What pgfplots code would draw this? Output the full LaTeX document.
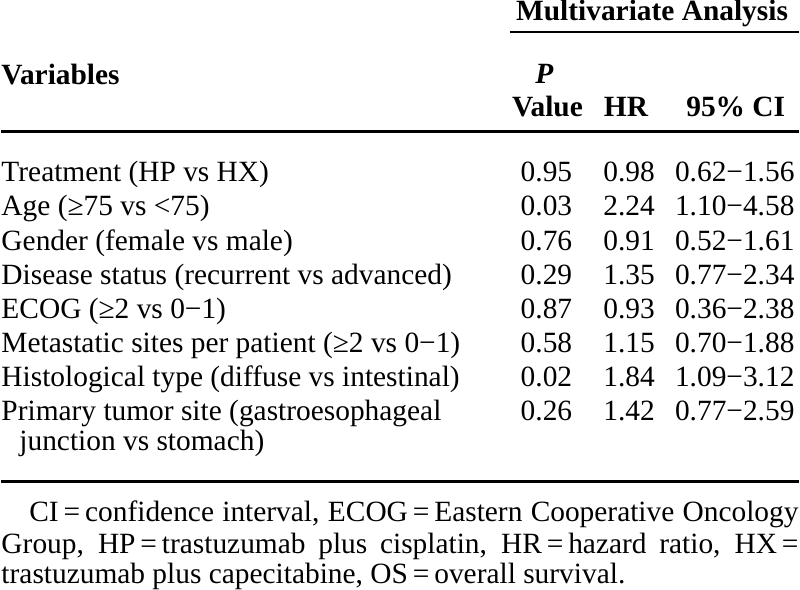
\documentclass[border=0pt]{standalone}
\usepackage{fontspec}
\setmainfont{Liberation Serif}
\usepackage{pgfplots}
\usepackage{pgfplotstable}
\pgfplotsset{compat=1.18}

\pgfplotstableread{
x y label
0 185.0 {Treatment (HP vs HX)}
0 219.3 {Age (≥75 vs <75)}
0 253.6 {Gender (female vs male)}
0 287.9 {Disease status (recurrent vs advanced)}
0 322.2 {ECOG (≥2 vs 0−1)}
0 356.5 {Metastatic sites per patient (≥2 vs 0−1)}
0 390.8 {Histological type (diffuse vs intestinal)}
0 425.1 {Primary tumor site (gastroesophageal}
18 455 {junction vs stomach)}
}\rowlabels

\pgfplotstableread{
x y label
547 185.0 0.95
547 219.3 0.03
547 253.6 0.76
547 287.9 0.29
547 322.2 0.87
547 356.5 0.58
547 390.8 0.02
547 425.1 0.26
630 185.0 0.98
630 219.3 2.24
630 253.6 0.91
630 287.9 1.35
630 322.2 0.93
630 356.5 1.15
630 390.8 1.84
630 425.1 1.42
736 185.0 {0.62−1.56}
736 219.3 {1.10−4.58}
736 253.6 {0.52−1.61}
736 287.9 {0.77−2.34}
736 322.2 {0.36−2.38}
736 356.5 {0.70−1.88}
736 390.8 {1.09−3.12}
736 425.1 {0.77−2.59}
}\values

\pgfplotstableread{
x y label
653 23 {\textbf{Multivariate Analysis}}
545 86 {\textbf{\textit{P}}}
548 119 {\textbf{Value}}
627 119 {\textbf{HR}}
737 119 {\textbf{95\% CI}}
}\headers

\pgfplotstableread{
x y label
0 87 {\textbf{Variables}}
}\varhead

\pgfplotstableread{
x y label
28 526 {\makebox[772pt][s]{CI\,=\,confidence interval, ECOG\,=\,Eastern Cooperative Oncology}}
0 558 {\makebox[800pt][s]{Group, HP\,=\,trastuzumab plus cisplatin, HR\,=\,hazard ratio, HX\,=}}
0 588 {trastuzumab plus capecitabine, OS\,=\,overall survival.}
}\footnote

\begin{document}
\begin{tikzpicture}
\begin{axis}[
  scale only axis, width=800pt, height=596pt,
  xmin=0, xmax=800, ymin=0, ymax=596, y dir=reverse,
  axis lines=none, clip=false,
  every node near coord/.append style={inner sep=0pt, outer sep=0pt, text=black,
    font=\fontsize{29.5pt}{34pt}\selectfont},
]
\addplot[only marks, mark=none, black, point meta=explicit symbolic,
  nodes near coords, nodes near coords align={anchor=base west}]
  table[x=x, y=y, meta=label] {\rowlabels};
\addplot[only marks, mark=none, black, point meta=explicit symbolic,
  nodes near coords, nodes near coords align={anchor=base}]
  table[x=x, y=y, meta=label] {\values};
\addplot[only marks, mark=none, black, point meta=explicit symbolic,
  nodes near coords, nodes near coords align={anchor=base}]
  table[x=x, y=y, meta=label] {\headers};
\addplot[only marks, mark=none, black, point meta=explicit symbolic,
  nodes near coords, nodes near coords align={anchor=base west}]
  table[x=x, y=y, meta=label] {\varhead};
\addplot[only marks, mark=none, black, point meta=explicit symbolic,
  nodes near coords, nodes near coords align={anchor=base west}]
  table[x=x, y=y, meta=label] {\footnote};
% rules
\addplot[black, line width=2pt] coordinates {(510,35) (800,35)};
\addplot[black, line width=3pt] coordinates {(0,135) (800,135)};
\addplot[black, line width=3pt] coordinates {(0,486) (800,486)};
\end{axis}
\end{tikzpicture}
\end{document}
